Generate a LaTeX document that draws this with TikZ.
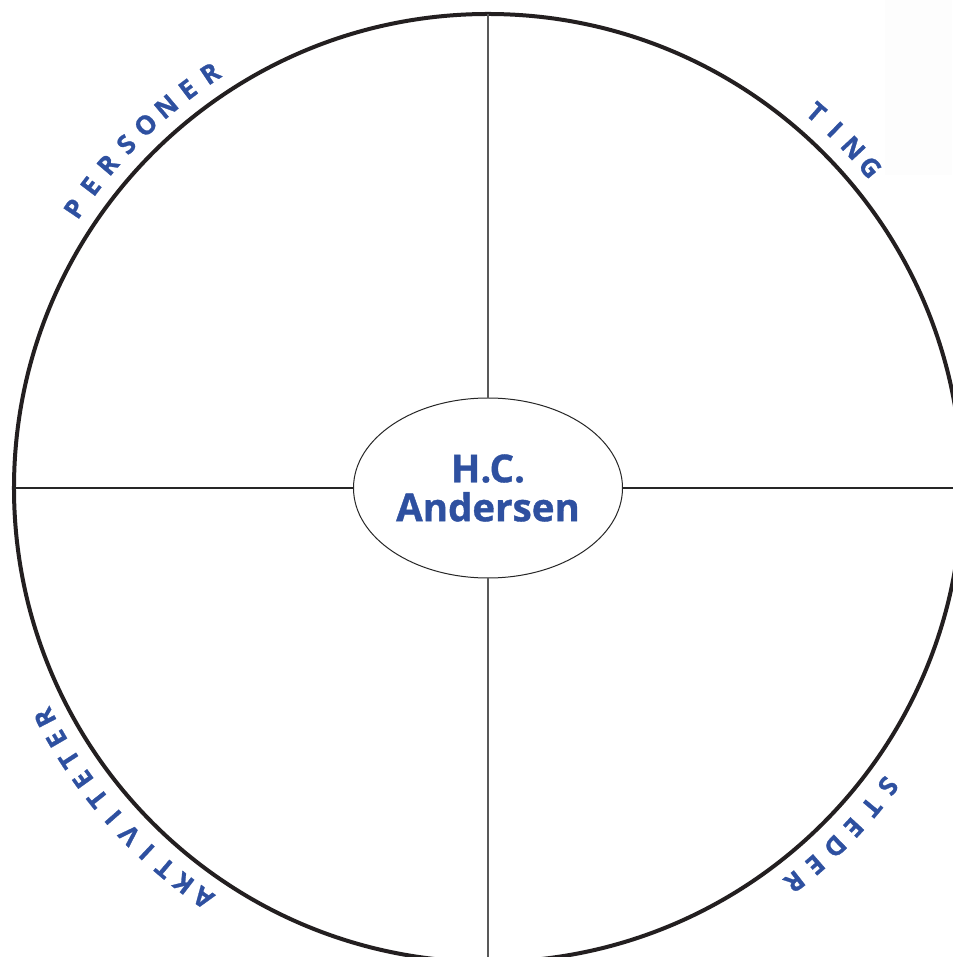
\documentclass[tikz,border=0pt]{standalone}
\usepackage{fontspec}
\newfontfamily\hcfont{Open Sans}[BoldFeatures={FakeBold=1}]
\usetikzlibrary{shapes.geometric}
\definecolor{hcblue}{RGB}{46,80,160}
\definecolor{rimblack}{RGB}{35,31,32}

\begin{document}
\begin{tikzpicture}[
    x=1pt, y=1pt,
    rim/.style={circle, draw=rimblack, line width=4pt, minimum size=948pt, inner sep=0pt, outer sep=0pt},
    hub/.style={ellipse, draw=black!85, line width=1pt, minimum width=269pt, minimum height=180pt,
                inner sep=0pt, outer sep=0pt, align=center, text=hcblue,
                font=\hcfont\bfseries\fontsize{38.5}{39}\selectfont},
    vline/.style={draw=black!65, line width=1.4pt},
    hline/.style={draw=black!85, line width=1.3pt},
    arclabel/.style={text=hcblue, inner sep=0pt, font=\hcfont\bfseries\fontsize{26}{26}\selectfont},
]

\def\rtext{499}

% page and faint corner patch
\useasboundingbox (-488,-469) rectangle (464,488);
\fill[white] (-488,-469) rectangle (464,488);
\fill[black!0.8] (397,313) rectangle (464,488);

% Big circle and centre ellipse
\node[rim] (rim) at (0,0) {};
\node[hub] (hub) at (0,0) {H.C.\\Andersen};

% Cross lines
\draw[vline] (hub.north) -- (rim.north);
\draw[vline] (hub.south) -- (rim.south);
\draw[hline] (hub.west) -- (rim.west);
\draw[hline] (hub.east) -- (rim.east);

% Labels round the rim (clockwise, tops outward)
\foreach \ch [count=\i from 0] in {P,E,R,S,O,N,E,R} {
    \pgfmathsetmacro{\ang}{145.95-\i*3.16}
    \node[arclabel, rotate=\ang-90] (pers-\i) at (\ang:\rtext) {\ch};
}
\foreach \ch [count=\i from 0] in {T,I,N,G} {
    \pgfmathsetmacro{\ang}{48.86-\i*2.95}
    \node[arclabel, rotate=\ang-90] (ting-\i) at (\ang:\rtext) {\ch};
}
\foreach \ch [count=\i from 0] in {S,T,E,D,E,R} {
    \pgfmathsetmacro{\ang}{-36.68-\i*3.08}
    \node[arclabel, rotate=\ang-90] (sted-\i) at (\ang:\rtext) {\ch};
}
\foreach \ch [count=\i from 0] in {A,K,T,I,V,I,T,E,T,E,R} {
    \pgfmathsetmacro{\ang}{-124.81-\i*2.78}
    \node[arclabel, rotate=\ang-90] (akt-\i) at (\ang:\rtext) {\ch};
}

\end{tikzpicture}
\end{document}
